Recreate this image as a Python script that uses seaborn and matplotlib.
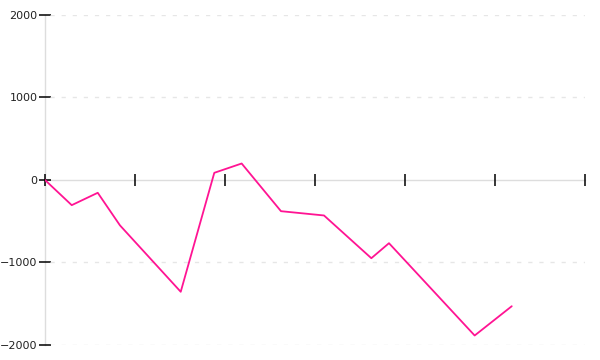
import matplotlib
matplotlib.use("Agg")
import matplotlib.pyplot as plt
import seaborn as sns
import pandas as pd

# data (x in tick units, ticks unlabeled)
x_vals = [0, 0.297, 0.586, 0.833, 1.508, 1.881, 2.185, 2.622, 3.10, 3.626, 3.822, 4.774, 5.186]
y_vals = [0, -305, -155, -550, -1355, 87, 200, -378, -430, -948, -766, -1885, -1530]
y_ticks = [-2000, -1000, 0, 1000, 2000]
x_ticks = [0, 1, 2, 3, 4, 5, 6]

sns.set_style("white")
plt.rcParams['font.family'] = ['DejaVu Sans']

df = pd.DataFrame({"x": x_vals, "y": y_vals})

fig = plt.figure(figsize=(6, 3.6), dpi=100)
ax = fig.add_axes([0.075, 0.04167, 0.9, 0.91667])

sns.lineplot(data=df, x="x", y="y", ax=ax, color="#ff1493", linewidth=1.3, zorder=3)

ax.set_xlim(0, 6)
ax.set_ylim(-2000, 2000)
ax.set_yticks(y_ticks)
ax.set_xticks(x_ticks)
ax.set_xticklabels([])
ax.set_xlabel("")
ax.set_ylabel("")

for s in ["top", "right"]:
    ax.spines[s].set_visible(False)
ax.spines["left"].set_color("#dddddd")
ax.spines["left"].set_linewidth(1)
ax.spines["left"].set_zorder(0.5)
ax.spines["bottom"].set_position(("data", 0))
ax.spines["bottom"].set_color("#dddddd")
ax.spines["bottom"].set_linewidth(1)
ax.spines["bottom"].set_zorder(0.5)

ax.tick_params(axis="y", direction="inout", length=8, width=1.1, color="black",
               labelsize=8, labelcolor="#222222", pad=1.5, left=True)
ax.tick_params(axis="x", direction="inout", length=8, width=1.1, color="black",
               bottom=True, labelbottom=False)

for yv in [-2000, -1000, 1000, 2000]:
    ax.axhline(yv, xmin=0.01, color="#e6e6e6", linewidth=1, linestyle=(0, (3, 5)), zorder=1)
ax.grid(False)

fig.savefig("out.png", dpi=100)
